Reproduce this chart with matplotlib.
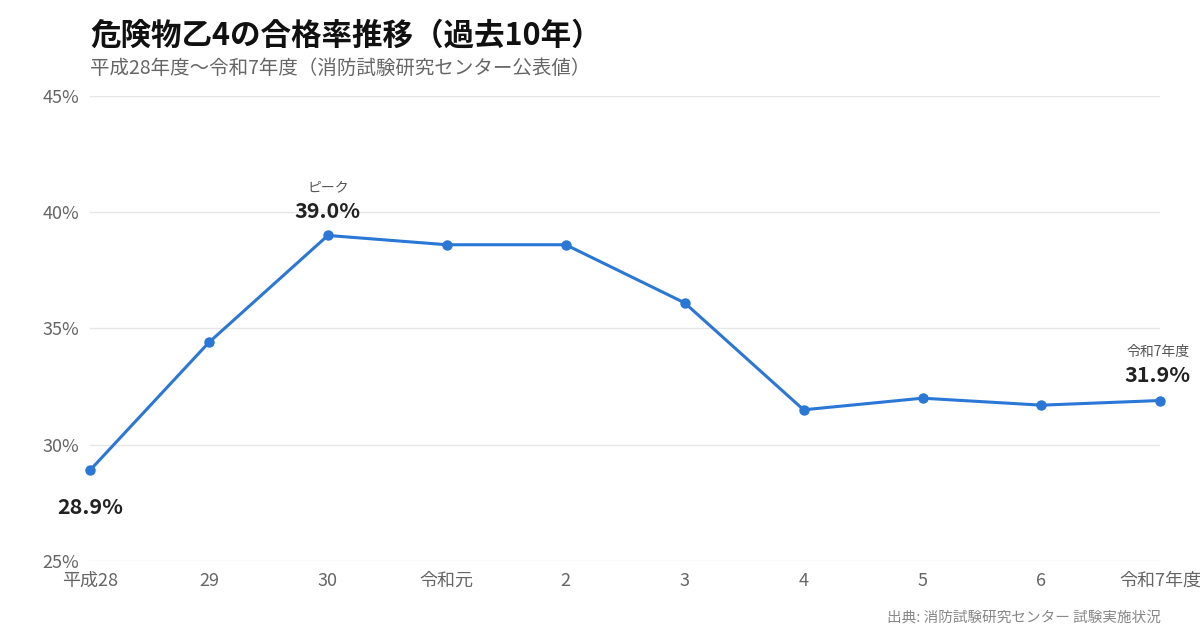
import matplotlib
matplotlib.use("Agg")
import matplotlib.pyplot as plt

plt.rcParams["font.family"] = ["Noto Sans CJK JP", "DejaVu Sans"]

years = ["平成28", "29", "30", "令和元", "2", "3", "4", "5", "6", "令和7年度"]
rates = [28.9, 34.4, 39.0, 38.6, 38.6, 36.1, 31.5, 32.0, 31.7, 31.9]
yticks = [25, 30, 35, 40, 45]

BLUE = "#2a77d6"
GRAY = "#666666"

fig = plt.figure(figsize=(12, 6.44), dpi=100)
ax = fig.add_axes([0.075, 0.129, 0.892, 0.722])
x = list(range(len(years)))
ax.plot(x, rates, color=BLUE, lw=2.2, marker="o", ms=6.5, zorder=3, clip_on=False)

ax.set_xlim(0, len(years) - 1)
ax.set_ylim(25, 45)
ax.set_yticks(yticks)
ax.set_yticklabels([f"{v}%" for v in yticks], color=GRAY, fontsize=13)
ax.set_xticks(x)
ax.set_xticklabels(years, color=GRAY, fontsize=13)
ax.tick_params(length=0, pad=8)
ax.grid(True, axis="y", color="#e6e6e6", lw=1)
for s in ax.spines.values():
    s.set_visible(False)

# annotations
ax.annotate(f"{rates[0]}%", (0, rates[0]), xytext=(0, -27), textcoords="offset points",
            ha="center", va="center", fontsize=15.5, fontweight="bold", color="#222222")
ax.annotate(f"{rates[2]}%", (2, rates[2]), xytext=(0, 17), textcoords="offset points",
            ha="center", va="center", fontsize=15.5, fontweight="bold", color="#222222")
ax.annotate("ピーク", (2, rates[2]), xytext=(0, 35), textcoords="offset points",
            ha="center", va="center", fontsize=10, color="#555555")
ax.annotate(f"{rates[-1]}%", (9, rates[-1]), xytext=(-2, 18), textcoords="offset points",
            ha="center", va="center", fontsize=15.5, fontweight="bold", color="#222222")
ax.annotate("令和7年度", (9, rates[-1]), xytext=(-2, 35), textcoords="offset points",
            ha="center", va="center", fontsize=10, color="#555555")

fig.text(0.075, 0.945, "危険物乙4の合格率推移（過去10年）", fontsize=22, fontweight="bold",
         color="#111111", va="center")
fig.text(0.075, 0.893, "平成28年度〜令和7年度（消防試験研究センター公表値）", fontsize=14,
         color=GRAY, va="center")
fig.text(0.967, 0.04, "出典: 消防試験研究センター 試験実施状況", fontsize=10.5,
         color="#888888", ha="right", va="center")

fig.savefig("out.png", dpi=100, facecolor="white")
